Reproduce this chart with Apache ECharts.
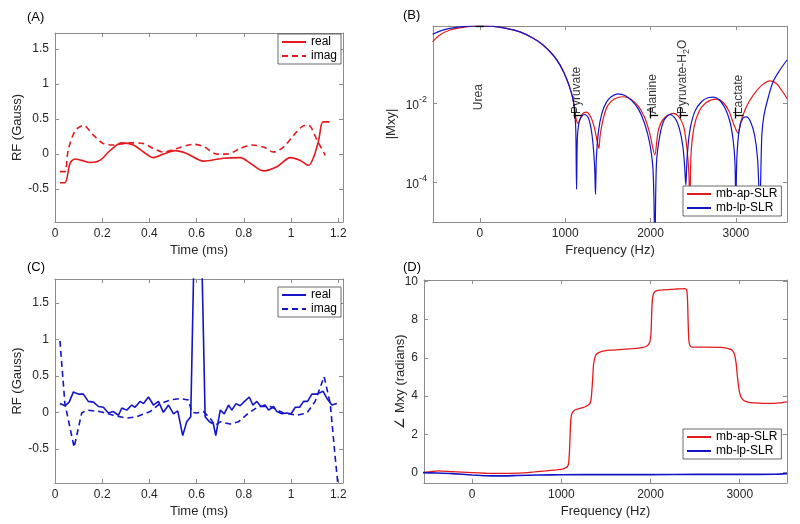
<!DOCTYPE html>
<html><head><meta charset="utf-8">
<script src="https://cdn.jsdelivr.net/npm/echarts@6/dist/echarts.min.js"></script>
<style>html,body{margin:0;padding:0;background:#fff}#c{width:800px;height:524px}</style>
</head><body><div id="c"></div>
<script>
// ---------- Panel A: mb-ap-SLR RF pulse (time ms, Gauss) ----------
const aReal = [[0.021,-0.41],[0.042,-0.41],[0.064,-0.13],[0.085,-0.07],[0.113,-0.09],[0.148,-0.12],[0.19,-0.09],[0.233,0.05],[0.283,0.16],[0.332,0.13],[0.375,0.03],[0.417,-0.05],[0.459,0.0],[0.509,0.05],[0.558,0.01],[0.629,-0.10],[0.714,-0.06],[0.785,-0.05],[0.827,-0.13],[0.883,-0.24],[0.94,-0.18],[0.997,-0.05],[1.039,-0.09],[1.074,-0.16],[1.096,-0.04],[1.117,0.2],[1.135,0.46],[1.163,0.46]];
const aImag = [[0.021,-0.25],[0.042,-0.25],[0.056,0.06],[0.085,0.33],[0.12,0.41],[0.163,0.27],[0.205,0.15],[0.247,0.13],[0.318,0.16],[0.375,0.15],[0.417,0.08],[0.459,0.03],[0.516,0.08],[0.587,0.14],[0.629,0.11],[0.686,0.0],[0.728,0.0],[0.785,0.08],[0.834,0.13],[0.883,0.10],[0.926,0.03],[0.968,0.10],[1.011,0.27],[1.05,0.40],[1.074,0.41],[1.11,0.2],[1.145,-0.02]];
// ---------- Panel C: mb-lp-SLR RF pulse ----------
const cReal = [[0.021,0.12],[0.042,0.09],[0.06,0.14],[0.078,0.28],[0.099,0.25],[0.12,0.25],[0.141,0.15],[0.163,0.14],[0.184,0.08],[0.205,0.07],[0.226,-0.01],[0.247,0.01],[0.269,-0.04],[0.283,0.06],[0.304,0.03],[0.325,0.10],[0.339,0.07],[0.36,0.15],[0.375,0.12],[0.396,0.21],[0.417,0.10],[0.438,0.15],[0.459,0.0],[0.481,0.10],[0.502,-0.02],[0.52,0.02],[0.541,-0.32],[0.558,-0.13],[0.575,-0.06],[0.597,3.5],[0.613,3.5],[0.636,-0.06],[0.654,-0.13],[0.671,-0.16],[0.681,-0.32],[0.70,0.03],[0.717,-0.02],[0.735,0.10],[0.749,0.03],[0.767,0.12],[0.784,0.09],[0.803,0.15],[0.823,0.21],[0.838,0.10],[0.855,0.15],[0.872,0.08],[0.89,0.10],[0.905,0.03],[0.926,0.08],[0.94,0.01],[0.961,-0.02],[0.982,-0.01],[1.0,-0.02],[1.018,0.07],[1.036,0.07],[1.053,0.15],[1.07,0.15],[1.088,0.25],[1.11,0.25],[1.135,0.29],[1.152,0.19],[1.173,0.10],[1.194,0.12]];
const cImag = [[0.021,0.98],[0.042,0.12],[0.081,-0.48],[0.113,-0.01],[0.134,0.03],[0.19,0.01],[0.247,-0.04],[0.304,-0.08],[0.346,-0.06],[0.403,0.01],[0.445,0.12],[0.488,0.17],[0.53,0.19],[0.565,0.17],[0.58,0.0],[0.6,-0.01],[0.629,0.01],[0.657,-0.08],[0.678,-0.18],[0.70,-0.13],[0.742,-0.16],[0.777,-0.13],[0.82,-0.01],[0.862,0.08],[0.912,0.08],[0.968,-0.01],[1.025,-0.04],[1.067,-0.01],[1.102,0.15],[1.14,0.49],[1.166,0.12],[1.187,-0.62],[1.205,-1.2]];
// ---------- Panel B: |Mxy| (log10 exponent) vs frequency (Hz) ----------
const bApLog = [[-555,-0.44],[-470,-0.27],[-350,-0.14],[-160,-0.06],[0,-0.04],[160,-0.05],[310,-0.10],[470,-0.19],[625,-0.35],[740,-0.52],[860,-0.78],[940,-1.03],[1015,-1.37],[1075,-1.75],[1100,-2.0],[1120,-2.3],[1145,-2.5],[1165,-2.45],[1200,-2.27],[1250,-2.22],[1300,-2.35],[1340,-2.6],[1375,-2.95],[1395,-3.14],[1410,-2.8],[1450,-2.35],[1500,-2.05],[1580,-1.88],[1680,-1.83],[1760,-1.88],[1850,-2.05],[1930,-2.35],[1990,-2.75],[2050,-3.30],[2090,-2.7],[2150,-2.4],[2265,-2.25],[2330,-2.33],[2390,-2.6],[2430,-3.2],[2450,-3.8],[2461,-4.7],[2475,-3.3],[2510,-2.6],[2570,-2.2],[2650,-1.98],[2773,-1.89],[2850,-1.97],[2920,-2.2],[2980,-2.55],[3027,-2.76],[3060,-2.45],[3120,-2.1],[3200,-1.8],[3300,-1.55],[3400,-1.43],[3480,-1.5],[3550,-1.71],[3600,-1.87]];
const bLpLog = [[-555,-0.25],[-470,-0.17],[-350,-0.10],[-160,-0.05],[0,-0.04],[160,-0.05],[310,-0.10],[470,-0.19],[625,-0.35],[740,-0.52],[860,-0.78],[940,-1.03],[1015,-1.37],[1075,-1.75],[1100,-2.0],[1115,-2.3],[1125,-2.75],[1133,-4.17],[1142,-2.9],[1160,-2.5],[1190,-2.33],[1230,-2.28],[1270,-2.36],[1300,-2.6],[1325,-3.0],[1345,-3.6],[1355,-4.30],[1365,-3.4],[1390,-2.7],[1430,-2.25],[1480,-1.98],[1540,-1.83],[1620,-1.76],[1700,-1.80],[1780,-1.93],[1860,-2.15],[1930,-2.5],[1990,-3.0],[2030,-3.7],[2051,-5.5],[2070,-3.5],[2110,-2.8],[2160,-2.42],[2227,-2.28],[2290,-2.38],[2340,-2.65],[2380,-3.1],[2400,-3.6],[2414,-4.07],[2428,-3.4],[2460,-2.7],[2520,-2.2],[2600,-1.95],[2680,-1.85],[2734,-1.84],[2800,-1.9],[2870,-2.1],[2930,-2.45],[2970,-2.95],[2990,-3.5],[3000,-4.6],[3012,-3.4],[3040,-2.65],[3080,-2.38],[3125,-2.34],[3170,-2.45],[3220,-2.8],[3255,-3.4],[3281,-4.6],[3305,-2.8],[3330,-2.3],[3380,-1.85],[3437,-1.45],[3515,-1.16],[3600,-0.90]];
const metNames = ['Urea','Pyruvate','Alanine','Pyruvate-H{s|2}O','Lactate'];
const metFreq  = [0, 1150, 2040, 2390, 3040];
const metLabelLog = [-2.17, -2.27, -2.27, -2.27, -2.27];
const metBarLog = [-0.045, -2.3, -2.3, -2.3, -2.3];
const bTickLog = [-4, -2];
// ---------- Panel D: phase of Mxy (radians) ----------
const dAp = [[-550,0.0],[-450,0.06],[-376,0.09],[-226,0.05],[0,0.0],[150,-0.03],[300,-0.04],[526,-0.02],[700,0.04],[827,0.09],[950,0.15],[1015,0.19],[1060,0.28],[1080,0.45],[1092,1.2],[1100,2.2],[1108,2.85],[1120,3.1],[1140,3.24],[1180,3.32],[1240,3.4],[1290,3.5],[1320,3.62],[1335,3.9],[1350,4.8],[1360,5.6],[1375,6.0],[1395,6.2],[1447,6.33],[1550,6.4],[1654,6.43],[1800,6.48],[1900,6.53],[1960,6.62],[1990,6.8],[2005,7.3],[2015,8.6],[2025,9.2],[2045,9.45],[2075,9.52],[2180,9.57],[2300,9.6],[2385,9.62],[2405,9.55],[2415,9.0],[2422,7.8],[2430,6.9],[2445,6.62],[2481,6.56],[2600,6.56],[2782,6.55],[2860,6.5],[2910,6.42],[2940,6.2],[2960,5.7],[2975,5.0],[2990,4.4],[3010,4.0],[3045,3.77],[3100,3.68],[3158,3.65],[3346,3.62],[3450,3.65],[3530,3.7]];
const dLp = [[-550,0.0],[-400,-0.02],[-226,-0.05],[0,-0.12],[150,-0.16],[300,-0.17],[500,-0.15],[750,-0.12],[1000,-0.11],[1500,-0.10],[2000,-0.10],[2500,-0.09],[3000,-0.09],[3400,-0.08],[3530,-0.05]];
// tick values
const tTicks = [0,0.2,0.4,0.6,0.8,1,1.2];
const rfTicks = [-0.5,0,0.5,1,1.5];
const fTicks = [0,1000,2000,3000];
const phTicks = [0,2,4,6,8,10];

const RED = '#e3191c', BLUE = '#1414c8';
const AX = '#8c8c8c', TXT = '#262626', FONT = 'Liberation Sans, Arial, sans-serif';
const p10 = e => Math.pow(10, e);

const grids = [
  {left:55, top:33, width:288, height:189},
  {left:433, top:26, width:354, height:196},
  {left:55, top:279, width:288, height:204},
  {left:424, top:280, width:363, height:203}
];
function axCommon(pos, gi, min, max, ticks, type) {
  const main = pos==='bottom' || pos==='left';
  return {
    type: type || 'value', gridIndex: gi, position: pos, min, max, logBase: 10,
    axisLine: {show:true, onZero:false, lineStyle:{color:AX, width:1}},
    axisTick: {show:true, inside:true, length:4, customValues:ticks, lineStyle:{color:AX, width:1}},
    axisLabel: {show:main, customValues:ticks, margin:6, color:TXT, fontSize:12, fontFamily:FONT,
      formatter: v => String(v)},
    splitLine: {show:false}, minorTick:{show:false}
  };
}
const nameStyle = {color:TXT, fontSize:13, fontFamily:FONT};
const xAxes = [], yAxes = [];
function addAxes(gi, xr, xt, xname, yr, yt, yname, ygap, ytype) {
  const xb = axCommon('bottom', gi, xr[0], xr[1], xt);
  Object.assign(xb, {name:xname, nameLocation:'middle', nameGap:22, nameMoveOverlap:false, nameTextStyle:nameStyle});
  xAxes.push(xb, axCommon('top', gi, xr[0], xr[1], xt));
  const yl = axCommon('left', gi, yr[0], yr[1], yt, ytype);
  Object.assign(yl, {name:yname, nameLocation:'middle', nameGap:ygap, nameMoveOverlap:false, nameTextStyle:nameStyle});
  yAxes.push(yl, axCommon('right', gi, yr[0], yr[1], yt, ytype));
}
addAxes(0, [0,1.22], tTicks, 'Time (ms)', [-0.97,1.73], rfTicks, 'RF (Gauss)', 31);
addAxes(1, [-550,3600], fTicks, 'Frequency (Hz)', [p10(-5), p10(-0.04)], bTickLog.map(p10), '|Mxy|', 35, 'log');
addAxes(2, [0,1.22], tTicks, 'Time (ms)', [-0.97,1.83], rfTicks, 'RF (Gauss)', 31);
addAxes(3, [-540,3530], fTicks, 'Frequency (Hz)', [-0.54,10.07], phTicks, '\u2220 Mxy (radians)', 17);
// log axis labels as 10^n
yAxes[2].axisLabel.formatter = v => '{b|10}{s|' + Math.round(Math.log10(v)) + '}';
yAxes[2].axisLabel.rich = {b:{fontSize:12, lineHeight:16, verticalAlign:'bottom', color:TXT, fontFamily:FONT}, s:{fontSize:9, lineHeight:9, verticalAlign:'top', color:TXT, fontFamily:FONT}};

function line(name, gi, data, color, w, dash, smooth) {
  return {type:'line', name, xAxisIndex:gi*2, yAxisIndex:gi*2, data, symbol:'none', showSymbol:false,
    smooth: smooth || false, clip:true, lineStyle:{color, width:w, type: dash ? [6,4] : 'solid'}, itemStyle:{color}, z:3};
}
const series = [
  line('real', 0, aReal, RED, 1.6, false, 0.3),
  line('imag', 0, aImag, RED, 1.6, true, 0.3),
  line('mb-ap-SLR', 1, bApLog.map(d => [d[0], p10(d[1])]), RED, 1.2, false, 0.3),
  line('mb-lp-SLR', 1, bLpLog.map(d => [d[0], p10(d[1])]), BLUE, 1.2, false, 0.3),
  line('real ', 2, cReal, BLUE, 1.6, false),
  line('imag ', 2, cImag, BLUE, 1.6, true),
  line('mb-ap-SLR', 3, dAp, RED, 1.3, false, 0.2),
  line('mb-lp-SLR', 3, dLp, BLUE, 1.6, false, 0.2)
];
// metabolite labels on panel B
series.push({
  type:'scatter', xAxisIndex:2, yAxisIndex:2, symbolSize:0, z:5, silent:true,
  data: metNames.map((n,i) => ({value:[metFreq[i], p10(metLabelLog[i])], name:n})),
  label:{show:true, position:'inside', rotate:90, align:'left', verticalAlign:'middle',
    formatter: p => '{n|' + p.name.replace('{s|2}', '}{s|2}{n|') + '}',
    rich:{n:{fontSize:12, lineHeight:14, verticalAlign:'top', color:'#000', fontFamily:FONT},
          s:{fontSize:9, lineHeight:8, verticalAlign:'bottom', color:'#000', fontFamily:FONT}}}
});
// passband bars on panel B
const bars = [];
metFreq.forEach((f,i) => {
  bars.push([{coord:[f-50, p10(metBarLog[i])]},{coord:[f+50, p10(metBarLog[i])]}]);
  if (i>0) bars.push([{coord:[f-45, p10(-2.1)]},{coord:[f-45, p10(-2.38)]}]);
});
series.push({type:'line', xAxisIndex:2, yAxisIndex:2, data:[], symbol:'none', z:5,
  markLine:{silent:true, symbol:'none', animation:false, label:{show:false},
    lineStyle:{color:'#000', width:1.3, type:'solid'}, data:bars}});

const option = {
  animation:false,
  backgroundColor:'#fff',
  title:[
    {text:'(A)', left:27, top:11, padding:0, textStyle:{fontSize:13, fontWeight:'normal', color:'#000', fontFamily:FONT}},
    {text:'(B)', left:403, top:9, padding:0, textStyle:{fontSize:13, fontWeight:'normal', color:'#000', fontFamily:FONT}},
    {text:'(C)', left:27, top:261, padding:0, textStyle:{fontSize:13, fontWeight:'normal', color:'#000', fontFamily:FONT}},
    {text:'(D)', left:403, top:261, padding:0, textStyle:{fontSize:13, fontWeight:'normal', color:'#000', fontFamily:FONT}}
  ],
  grid: grids,
  xAxis: xAxes, yAxis: yAxes,
  legend: [
    {left:278, top:34, data:['real','imag']},
    {left:683, top:186, data:['mb-ap-SLR','mb-lp-SLR']},
    {left:278, top:287, data:['real ','imag ']},
    {left:683, top:429, data:['mb-ap-SLR','mb-lp-SLR']}
  ].map(l => Object.assign({orient:'vertical', padding:[2,4,2,3], itemGap:2, itemWidth:24, itemHeight:12,
    backgroundColor:'#fff', borderColor:'#444', borderWidth:0.8, selectedMode:false,
    itemStyle:{opacity:0, borderWidth:0}, 
    formatter: n => n.trim(), textStyle:{fontSize:12, color:'#000', fontFamily:FONT}, z:10}, l)),
  series
};
const chart = echarts.init(document.getElementById('c'));
chart.setOption(option);
</script></body></html>
